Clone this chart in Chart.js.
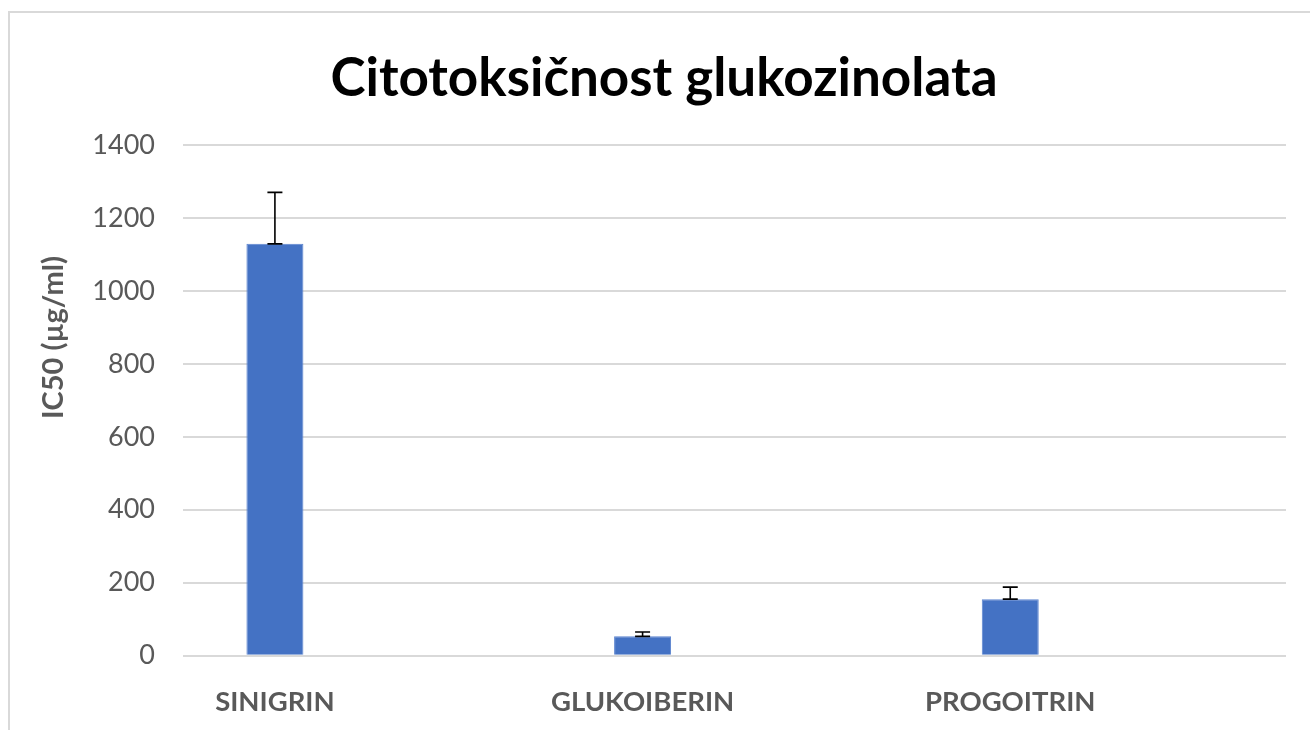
<!DOCTYPE html>
<html>
<head>
<meta charset="utf-8">
<script src="https://cdn.jsdelivr.net/npm/chart.js@4/dist/chart.umd.min.js"></script>
<style>
  html, body { margin: 0; padding: 0; background: #ffffff; }
  #wrap { width: 1310px; height: 730px; }
</style>
</head>
<body>
<div id="wrap"><canvas id="c" width="1310" height="730"></canvas></div>
<script>
const chartTitle = "Citotoksičnost glukozinolata";
const yAxisTitle = "IC50 (µg/ml)";
const categories = ["SINIGRIN", "GLUKOIBERIN", "PROGOITRIN"];
const ic50Values = [1129, 53, 155];
const ic50Errors = [141, 12, 33];
const yTickMin = 0;
const yTickMax = 1400;
const yTickStep = 200;

// Each category is followed by an empty slot, as in the original layout
const slotLabels = [];
const slotValues = [];
const slotErrors = [];
categories.forEach((c, i) => {
  slotLabels.push(c, "");
  slotValues.push(ic50Values[i], null);
  slotErrors.push(ic50Errors[i], null);
});

const GREY = "#595959";
const GRID = "#d9d9d9";

const framePlugin = {
  id: "frame",
  beforeDraw(chart) {
    const ctx = chart.ctx;
    ctx.save();
    ctx.fillStyle = "#ffffff";
    ctx.fillRect(0, 0, chart.width, chart.height);
    ctx.strokeStyle = GRID;
    ctx.lineWidth = 2;
    ctx.strokeRect(9, 12, chart.width + 50, chart.height + 50);
    ctx.restore();
  }
};

const errorBarPlugin = {
  id: "errorBars",
  afterDatasetsDraw(chart) {
    const ctx = chart.ctx;
    const meta = chart.getDatasetMeta(0);
    const yScale = chart.scales.y;
    ctx.save();
    ctx.strokeStyle = "#000000";
    ctx.lineWidth = 1.6;
    meta.data.forEach((bar, i) => {
      const v = slotValues[i];
      const e = slotErrors[i];
      if (v === null || e === null) return;
      const x = bar.x;
      const yTop = yScale.getPixelForValue(v + e);
      const yBot = yScale.getPixelForValue(v);
      const half = 7.5;
      ctx.beginPath();
      ctx.moveTo(x, yBot);
      ctx.lineTo(x, yTop);
      ctx.moveTo(x - half, yTop);
      ctx.lineTo(x + half, yTop);
      ctx.moveTo(x - half, yBot);
      ctx.lineTo(x + half, yBot);
      ctx.stroke();
    });
    ctx.restore();
  }
};

const yTitlePlugin = {
  id: "yTitle",
  afterDraw(chart) {
    const ctx = chart.ctx;
    const area = chart.chartArea;
    ctx.save();
    ctx.translate(54, area.top + (area.bottom - area.top) * 0.377);
    ctx.rotate(-Math.PI / 2);
    ctx.font = "bold 29px Lato";
    ctx.fillStyle = GREY;
    ctx.textAlign = "center";
    ctx.textBaseline = "middle";
    ctx.fillText(yAxisTitle, 0, 0);
    ctx.restore();
  }
};

new Chart(document.getElementById("c"), {
  type: "bar",
  data: {
    labels: slotLabels,
    datasets: [{
      label: yAxisTitle,
      data: slotValues,
      backgroundColor: "#4472C4",
      borderColor: "#5b84cf",
      borderWidth: 1,
      categoryPercentage: 1.0,
      barPercentage: 0.31
    }]
  },
  options: {
    responsive: false,
    animation: false,
    layout: { padding: { left: 42, right: 24, top: 0, bottom: 0 } },
    plugins: {
      legend: { display: false },
      tooltip: { enabled: false },
      title: {
        display: true,
        text: chartTitle,
        color: "#000000",
        font: { family: "Lato", size: 53, weight: "bold", lineHeight: 1.2 },
        padding: { top: 47, bottom: 34.4 }
      }
    },
    scales: {
      x: {
        grid: { display: false, drawTicks: false },
        border: { display: false },
        ticks: {
          color: GREY,
          font: { family: "Lato", size: 27.5, weight: "bold" },
          padding: 30,
          autoSkip: false,
          maxRotation: 0,
          minRotation: 0
        },
        afterFit(scale) { scale.height = 74.3; }
      },
      y: {
        min: yTickMin,
        max: yTickMax,
        grid: { color: GRID, lineWidth: 2, drawTicks: false },
        border: { display: false },
        ticks: {
          stepSize: yTickStep,
          color: GREY,
          font: { family: "Lato", size: 27 },
          padding: 28,
          callback: (v) => String(v)
        },
        afterFit(scale) { scale.width = 141; }
      }
    }
  },
  plugins: [framePlugin, errorBarPlugin, yTitlePlugin]
});
</script>
</body>
</html>
